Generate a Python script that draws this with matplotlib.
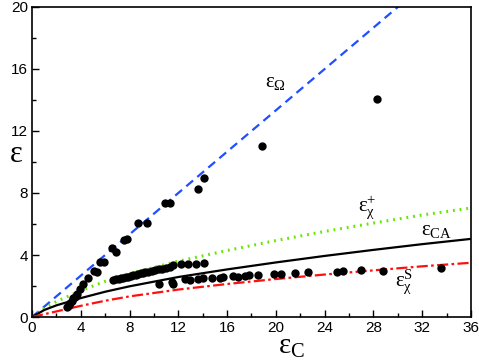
import numpy as np
import matplotlib
matplotlib.use("Agg")
import matplotlib.pyplot as plt
from matplotlib.ticker import MultipleLocator

plt.rcParams['font.family'] = ['Liberation Sans', 'DejaVu Sans']
plt.rcParams['mathtext.fontset'] = 'custom'
plt.rcParams['mathtext.rm'] = 'Liberation Serif'
plt.rcParams['mathtext.it'] = 'Liberation Serif:italic'

# theory curves
curve_x = [0, 1, 2, 4, 6, 8, 12, 16, 20, 24, 28, 32, 36]
eps_omega = [0, 0.667, 1.333, 2.667, 4.0, 5.333, 8.0, 10.667, 13.333, 16.0, 18.667, 21.333, 24.0]
eps_chi_plus = [0, 0.55, 1.0, 1.7, 2.3, 2.8, 3.6, 4.29, 4.93, 5.52, 6.06, 6.58, 7.03]
eps_ca = [0, 0.45, 0.75, 1.22, 1.63, 1.98, 2.58, 3.07, 3.52, 3.94, 4.33, 4.70, 5.04]
eps_chi_s = [0, 0.18, 0.36, 0.72, 1.05, 1.33, 1.77, 2.13, 2.45, 2.74, 3.01, 3.27, 3.5]

# simulation points
pts_x = [2.85, 2.93, 3.0, 3.12, 3.25, 3.39, 3.5, 3.66, 3.94, 4.21, 4.62, 5.11, 5.31,
         5.58, 5.91, 6.54, 6.87, 7.55, 7.82, 8.72, 9.41, 10.91, 11.32, 13.64, 14.11,
         18.84, 28.27,
         6.67, 6.9, 7.1, 7.3, 7.5, 7.7, 7.9, 8.1, 8.3, 8.5, 8.7, 8.9, 9.1, 9.3, 9.5,
         9.8, 10.1, 10.4, 10.7, 11.0, 11.3, 11.6, 12.2, 12.82, 13.45, 14.11,
         10.44, 11.46, 11.59, 12.55, 12.96, 13.64, 14.05, 14.74, 15.42, 15.69, 16.51,
         16.92, 17.47, 17.83, 18.57, 19.88, 20.43, 21.57, 22.67, 24.99, 25.49, 26.96,
         28.77, 33.55]
pts_y = [0.66, 0.71, 0.8, 0.92, 1.05, 1.2, 1.3, 1.48, 1.78, 2.13, 2.52, 2.99, 2.88,
         3.53, 3.53, 4.47, 4.19, 4.97, 5.0, 6.09, 6.09, 7.34, 7.34, 8.28, 8.97,
         11.05, 14.06,
         2.39, 2.42, 2.45, 2.5, 2.52, 2.55, 2.6, 2.65, 2.68, 2.72, 2.78, 2.82, 2.85,
         2.9, 2.92, 2.98, 3.02, 3.08, 3.12, 3.18, 3.25, 3.35, 3.4, 3.4, 3.42, 3.5,
         2.13, 2.28, 2.13, 2.43, 2.39, 2.45, 2.5, 2.5, 2.54, 2.6, 2.65,
         2.6, 2.65, 2.71, 2.71, 2.77, 2.77, 2.82, 2.88, 2.88, 2.97, 3.03,
         2.97, 3.16]

fig = plt.figure(figsize=(4.79, 3.62), dpi=100)
ax = fig.add_axes([0.0668, 0.1243, 0.9165, 0.8564])

ax.plot(curve_x, eps_omega, color='#1f4fff', lw=1.6, ls=(0, (4, 2.5)))
ax.plot(curve_x, eps_chi_plus, color='#66e600', lw=2.2, ls=(0, (0.6, 1.6)), dash_capstyle='butt')
ax.plot(curve_x, eps_ca, color='black', lw=1.6)
ax.plot(curve_x, eps_chi_s, color='#ff1010', lw=1.6, ls=(0, (5, 1.5, 1.2, 1.5)))
ax.scatter(pts_x, pts_y, s=36, color='black', zorder=5, linewidths=0)

ax.text(20.0, 15.1, r'$\mathrm{ε}_{\mathrm{Ω}}$', fontsize=15, ha='center', va='center')
ax.text(27.5, 7.1, r'$\mathrm{ε}_{\mathrm{χ}}^{+}$', fontsize=15, ha='center', va='center')
ax.text(33.2, 5.6, r'$\mathrm{ε}_{\mathrm{CA}}$', fontsize=15, ha='center', va='center')
ax.text(30.5, 2.3, r'$\mathrm{ε}_{\mathrm{χ}}^{\mathrm{S}}$', fontsize=15, ha='center', va='center')

ax.set_xlim(0, 36)
ax.set_ylim(0, 20)
ax.xaxis.set_major_locator(MultipleLocator(4))
ax.xaxis.set_minor_locator(MultipleLocator(2))
ax.yaxis.set_major_locator(MultipleLocator(4))
ax.yaxis.set_minor_locator(MultipleLocator(2))
ax.tick_params(which='both', direction='in', top=False, right=False, labelsize=11, pad=3)
ax.tick_params(which='major', length=5, width=1)
ax.tick_params(which='minor', length=3, width=1)
for s in ax.spines.values():
    s.set_linewidth(1.2)

# axis labels placed by hand to stay inside the canvas
fig.text(0.608, 0.005, r'$\mathrm{ε}_{\mathrm{C}}$', fontsize=21, ha='center', va='bottom')
fig.text(0.033, 0.575, r'$\mathrm{ε}$', fontsize=22, ha='center', va='center')

fig.savefig('out.png', dpi=100)
